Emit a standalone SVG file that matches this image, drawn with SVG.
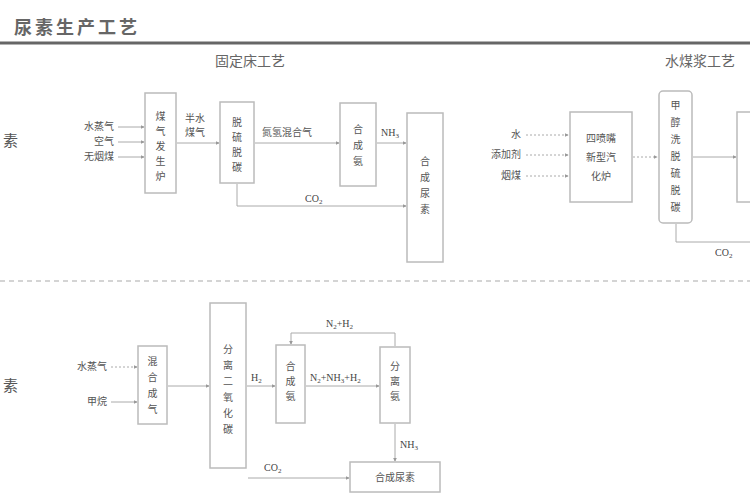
<svg xmlns="http://www.w3.org/2000/svg" width="750" height="500" viewBox="0 0 750 500">
<defs>
<style>
text{font-family:"Noto Sans CJK SC","Liberation Serif",serif;fill:#555}
.t{font-size:10px}
.v{font-size:10px;text-anchor:middle}
.box{fill:#fff;stroke:#bbb;stroke-width:1.5}
.ln{fill:none;stroke:#aaa;stroke-width:1}
.dt{fill:none;stroke:#aaa;stroke-width:1;stroke-dasharray:2 2}
.en{font-family:"Liberation Serif",serif;font-size:10px;fill:#444}
</style>
<marker id="a" viewBox="0 0 6 6" refX="5" refY="3" markerWidth="4" markerHeight="4" orient="auto"><path d="M0,0L6,3L0,6z" fill="#999"/></marker>
</defs>
<rect width="750" height="500" fill="#fff"/>
<text x="14" y="34" style="font-size:18px;font-weight:bold;fill:#666;letter-spacing:3px">尿素生产工艺</text>
<line x1="0" y1="43" x2="750" y2="43" stroke="#666" stroke-width="3"/>
<text x="250" y="66" style="font-size:14px;text-anchor:middle;fill:#666">固定床工艺</text>
<text x="665" y="66" style="font-size:14px;fill:#666">水煤浆工艺</text>
<text x="3" y="146" style="font-size:15px;fill:#555">素</text>
<text x="3" y="391" style="font-size:15px;fill:#555">素</text>
<line x1="0" y1="281" x2="750" y2="281" stroke="#aaa" stroke-width="1.2" stroke-dasharray="5 4"/>

<g id="connectors">
<line class="ln" x1="118" y1="127" x2="144" y2="127" marker-end="url(#a)"/>
<line class="ln" x1="118" y1="142" x2="144" y2="142" marker-end="url(#a)"/>
<line class="ln" x1="118" y1="157" x2="144" y2="157" marker-end="url(#a)"/>
<line class="ln" x1="177" y1="143" x2="219" y2="143" marker-end="url(#a)"/>
<line class="ln" x1="255" y1="143" x2="339" y2="143" marker-end="url(#a)"/>
<line class="ln" x1="377" y1="143" x2="406" y2="143" marker-end="url(#a)"/>
<polyline class="ln" points="237,184 237,206 406,206" marker-end="url(#a)"/>
<line class="dt" x1="526" y1="135" x2="568" y2="135" marker-end="url(#a)"/>
<line class="dt" x1="526" y1="155" x2="568" y2="155" marker-end="url(#a)"/>
<line class="dt" x1="526" y1="176" x2="568" y2="176" marker-end="url(#a)"/>
<line class="dt" x1="633" y1="157" x2="657" y2="157" marker-end="url(#a)"/>
<line class="ln" x1="693" y1="157" x2="736" y2="157" marker-end="url(#a)"/>
<polyline class="ln" points="676,224 676,242 750,242"/>
<line class="dt" x1="111" y1="367" x2="137" y2="367" marker-end="url(#a)"/>
<line class="ln" x1="111" y1="402" x2="137" y2="402" marker-end="url(#a)"/>
<line class="ln" x1="168" y1="386" x2="209" y2="386" marker-end="url(#a)"/>
<line class="ln" x1="247" y1="386" x2="275" y2="386" marker-end="url(#a)"/>
<line class="ln" x1="306" y1="386" x2="379" y2="386" marker-end="url(#a)"/>
<polyline class="ln" points="395,346 395,333 291,333 291,344" marker-end="url(#a)"/>
<line class="ln" x1="395" y1="424" x2="395" y2="461" marker-end="url(#a)"/>
<line class="ln" x1="248" y1="478" x2="349" y2="478" marker-end="url(#a)"/>
</g>

<g id="labels">
<text class="t" x="114" y="130" text-anchor="end">水蒸气</text>
<text class="t" x="114" y="145" text-anchor="end">空气</text>
<text class="t" x="114" y="160" text-anchor="end">无烟煤</text>
<text class="t" x="185" y="122">半水</text>
<text class="t" x="185" y="136">煤气</text>
<text class="t" x="262" y="136">氮氢混合气</text>
<text class="en" x="381" y="136">NH<tspan font-size="7" dy="2">3</tspan></text>
<text class="en" x="305" y="202">CO<tspan font-size="7" dy="2">2</tspan></text>
<text class="t" x="521" y="138" text-anchor="end">水</text>
<text class="t" x="521" y="158" text-anchor="end">添加剂</text>
<text class="t" x="521" y="179" text-anchor="end">烟煤</text>
<text class="en" x="715" y="256">CO<tspan font-size="7" dy="2">2</tspan></text>
<text class="t" x="107" y="370" text-anchor="end">水蒸气</text>
<text class="t" x="107" y="405" text-anchor="end">甲烷</text>
<text class="en" x="251" y="381">H<tspan font-size="7" dy="2">2</tspan></text>
<text class="en" x="310" y="381">N<tspan font-size="7" dy="2">2</tspan><tspan dy="-2">+NH</tspan><tspan font-size="7" dy="2">3</tspan><tspan dy="-2">+H</tspan><tspan font-size="7" dy="2">2</tspan></text>
<text class="en" x="326" y="327">N<tspan font-size="7" dy="2">2</tspan><tspan dy="-2">+H</tspan><tspan font-size="7" dy="2">2</tspan></text>
<text class="en" x="400" y="448">NH<tspan font-size="7" dy="2">3</tspan></text>
<text class="en" x="264" y="471">CO<tspan font-size="7" dy="2">2</tspan></text>
</g>

<g id="n-gasifier">
<rect class="box" x="145" y="93" width="31" height="100"/>
<text class="v" x="160.5" y="120"><tspan x="160.5">煤</tspan><tspan x="160.5" dy="15">气</tspan><tspan x="160.5" dy="15">发</tspan><tspan x="160.5" dy="15">生</tspan><tspan x="160.5" dy="15">炉</tspan></text>
</g>
<g id="n-desulf1">
<rect class="box" x="220" y="102" width="34" height="81"/>
<text class="v" x="237" y="126"><tspan x="237">脱</tspan><tspan x="237" dy="15">硫</tspan><tspan x="237" dy="15">脱</tspan><tspan x="237" dy="15">碳</tspan></text>
</g>
<g id="n-ammonia1">
<rect class="box" x="340" y="103" width="36" height="83"/>
<text class="v" x="358" y="133"><tspan x="358">合</tspan><tspan x="358" dy="16">成</tspan><tspan x="358" dy="16">氨</tspan></text>
</g>
<g id="n-urea1">
<rect class="box" x="407" y="113" width="36" height="149"/>
<text class="v" x="425" y="165"><tspan x="425">合</tspan><tspan x="425" dy="16">成</tspan><tspan x="425" dy="16">尿</tspan><tspan x="425" dy="16">素</tspan></text>
</g>
<g id="n-gasifier2">
<rect class="box" x="570" y="112" width="62" height="90"/>
<text class="v" x="601" y="142">四喷嘴</text>
<text class="v" x="601" y="161">新型汽</text>
<text class="v" x="601" y="180">化炉</text>
</g>
<g id="n-rectisol">
<rect class="box" x="659" y="91" width="33" height="132" rx="4"/>
<text class="v" x="675.5" y="109"><tspan x="675.5">甲</tspan><tspan x="675.5" dy="17">醇</tspan><tspan x="675.5" dy="17">洗</tspan><tspan x="675.5" dy="17">脱</tspan><tspan x="675.5" dy="17">硫</tspan><tspan x="675.5" dy="17">脱</tspan><tspan x="675.5" dy="17">碳</tspan></text>
</g>
<g id="n-next">
<rect class="box" x="737" y="112" width="30" height="90"/>
</g>
<g id="n-mix">
<rect class="box" x="138" y="346" width="29" height="78"/>
<text class="v" x="152.5" y="365"><tspan x="152.5">混</tspan><tspan x="152.5" dy="16">合</tspan><tspan x="152.5" dy="16">成</tspan><tspan x="152.5" dy="16">气</tspan></text>
</g>
<g id="n-co2sep">
<rect class="box" x="210" y="303" width="36" height="165"/>
<text class="v" x="228" y="353"><tspan x="228">分</tspan><tspan x="228" dy="16">离</tspan><tspan x="228" dy="16">二</tspan><tspan x="228" dy="16">氧</tspan><tspan x="228" dy="16">化</tspan><tspan x="228" dy="16">碳</tspan></text>
</g>
<g id="n-ammonia2">
<rect class="box" x="276" y="345" width="29" height="78"/>
<text class="v" x="290.5" y="370"><tspan x="290.5">合</tspan><tspan x="290.5" dy="15">成</tspan><tspan x="290.5" dy="15">氨</tspan></text>
</g>
<g id="n-nh3sep">
<rect class="box" x="380" y="347" width="30" height="76"/>
<text class="v" x="395" y="370"><tspan x="395">分</tspan><tspan x="395" dy="15">离</tspan><tspan x="395" dy="15">氨</tspan></text>
</g>
<g id="n-urea2">
<rect class="box" x="350" y="462" width="90" height="30"/>
<text class="v" x="395" y="481">合成尿素</text>
</g>
</svg>
